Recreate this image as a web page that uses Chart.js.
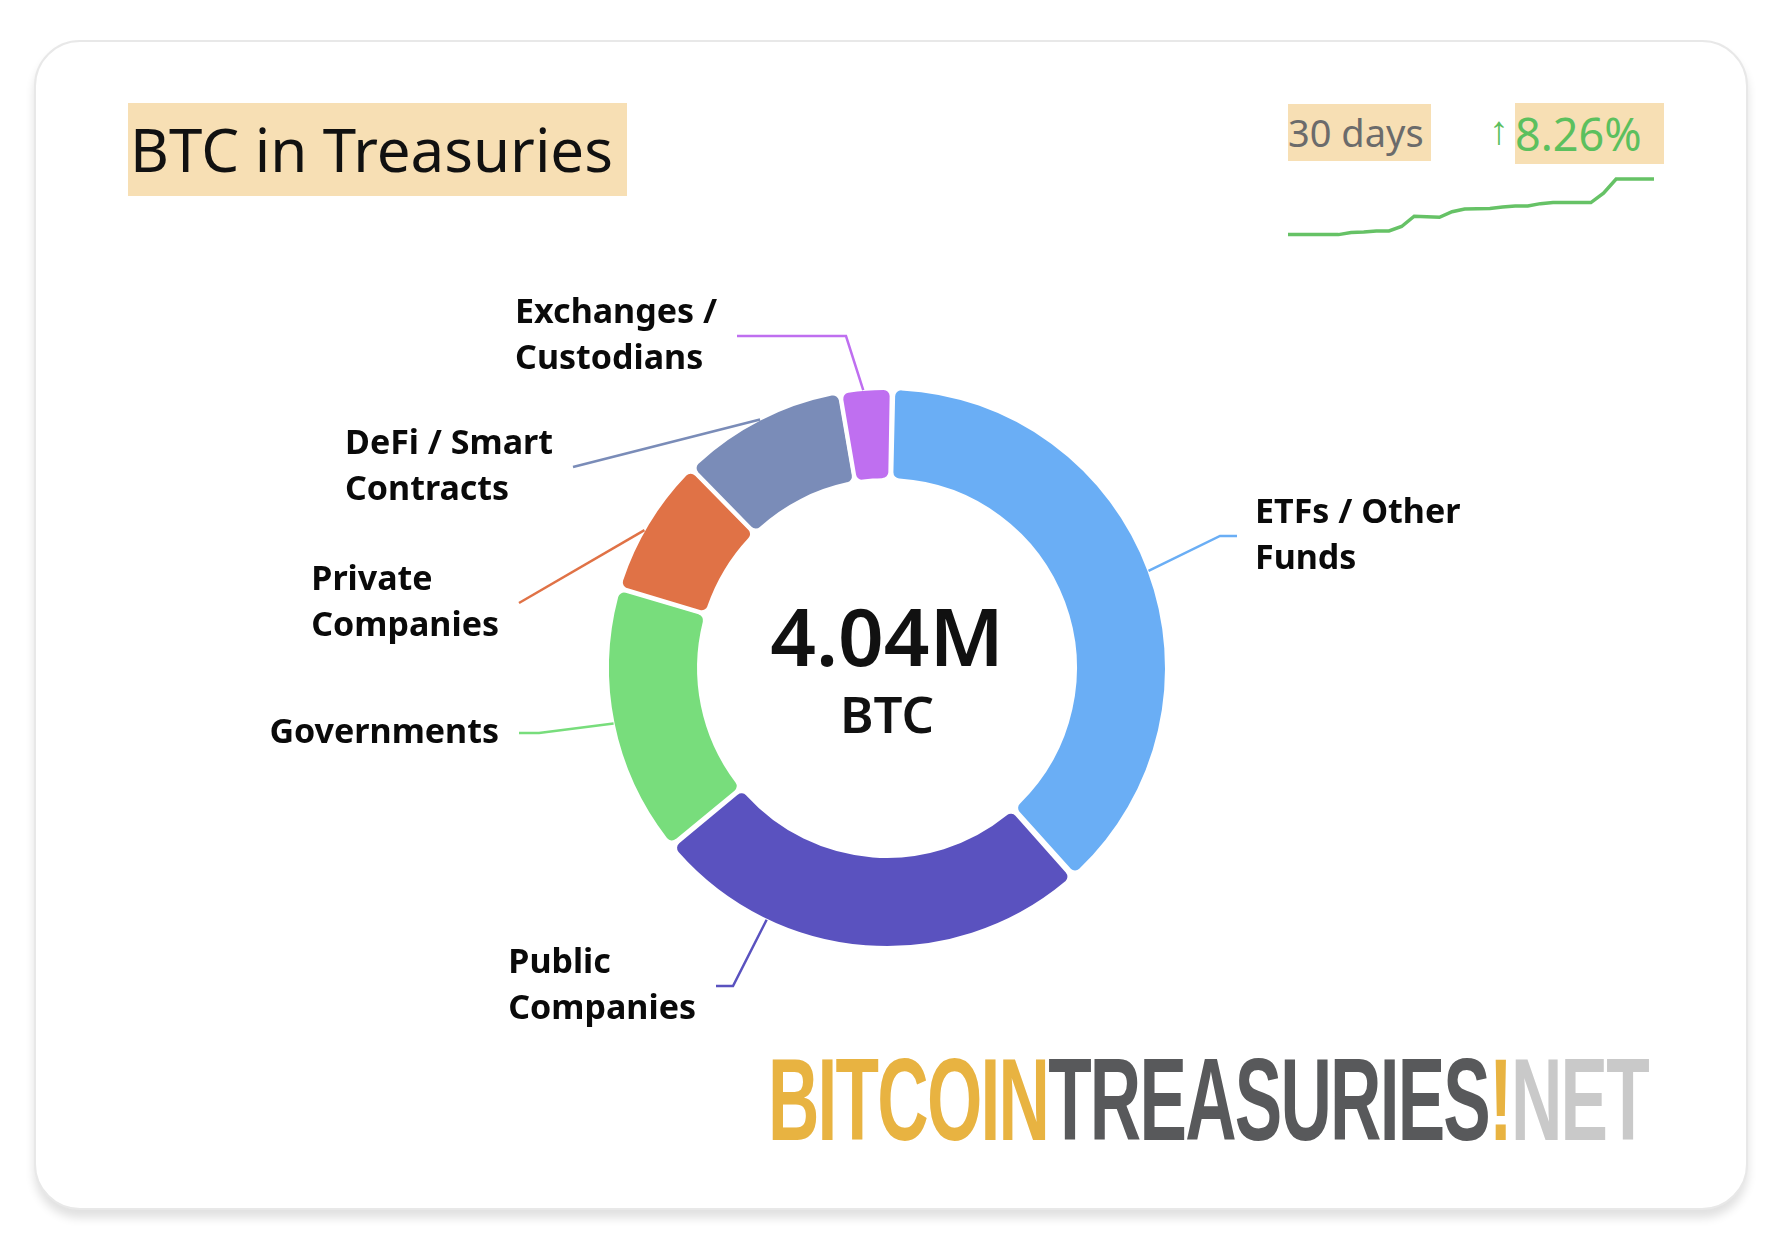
<!DOCTYPE html>
<html><head><meta charset="utf-8">
<script src="https://cdn.jsdelivr.net/npm/chart.js@4"></script>
<style>
html,body{margin:0;padding:0;background:#fff;width:1786px;height:1234px;overflow:hidden;font-family:"Noto Sans",sans-serif}
#card{position:absolute;left:34px;top:40px;width:1710px;height:1166px;border-radius:46px;background:#fff;border:2px solid #e8e8e8;box-shadow:0 8px 10px rgba(0,0,0,0.12)}
.box{position:absolute;background:#f7dfb4;white-space:nowrap}
#title{left:128px;top:103px;width:499px;height:93px;font-size:60px;line-height:93px;color:#111;text-indent:2px}
#days{left:1288px;top:104px;width:143px;height:57px;font-size:38px;line-height:57px;color:#6b6b6b}
#pct{left:1515px;top:103px;width:149px;height:61px;font-size:45px;line-height:61px;color:#5cc05e}
#arrow{position:absolute;left:1489px;top:100px;font-size:40px;line-height:57px;color:#5cc05e}
#main{position:absolute;left:0;top:0}
#sparkWrap{position:absolute;left:1282px;top:156px;width:378px;height:92px}
#logo{position:absolute;left:768px;top:1040px;font-family:"Liberation Sans Narrow","Liberation Sans",sans-serif;font-weight:bold;font-size:120px;line-height:120px;white-space:nowrap;transform-origin:0 0;letter-spacing:-3px}
</style></head><body>
<div id="card"></div>
<div id="title" class="box">BTC in Treasuries</div>
<div id="days" class="box">30 days</div>
<div id="arrow">↑</div>
<div id="pct" class="box">8.26%</div>
<canvas id="main" width="1786" height="1234"></canvas>
<div id="sparkWrap"><canvas id="spark"></canvas></div>
<div id="logo"><span style="color:#e8b341">BITCOIN</span><span style="color:#58595b">TREASURIES</span><span style="color:#e8b341">!</span><span style="color:#c9c9c9">NET</span></div>
<script>
const categories = ["ETFs / Other Funds","Public Companies","Governments","Private Companies","DeFi / Smart Contracts","Exchanges / Custodians"];
const labelLines = [["ETFs / Other","Funds"],["Public","Companies"],["Governments"],["Private","Companies"],["DeFi / Smart","Contracts"],["Exchanges /","Custodians"]];
const values = [1540, 1035, 630, 325, 390, 120];
const colors = ["#6aaef5","#5a52bf","#78dd7c","#e07246","#7a8cb8","#bf6ff0"];
const totalLabel = "4.04M";
const unitLabel = "BTC";
// leader line layout: where on the arc it starts (fraction), elbow and end points relative to donut centre
const leaderAt    = [0.5,0.73,0.5,0.45,0.5,0.45];
const leaderElbow = [[333,-132],[-154,318],[-348,65],[-368,-65],[-314,-201],[-41,-332]];
const leaderEnd   = [[350,-132],[-171,318],[-368,65],[-368,-65],[-314,-201],[-150,-332]];
const sparkDays = Array.from({length:30},(_,i)=>i+1);
const sparkValues = [3730,3730,3730,3730,3730,3742,3745,3750,3750,3775,3832,3829,3826,3857,3872,3874,3875,3883,3889,3889,3902,3908,3908,3908,3908,3960,4039,4039,4039,4039];

Chart.defaults.font.family = '"Noto Sans", sans-serif';
const labelPlugin = {
  id:'lbl',
  afterDraw(chart){
    const ctx = chart.ctx;
    const meta = chart.getDatasetMeta(0);
    const a0 = meta.data[0];
    const cx = a0.x, cy = a0.y;
    ctx.save();
    ctx.textAlign='center'; ctx.textBaseline='middle'; ctx.fillStyle='#111';
    ctx.font='600 80px "Noto Sans"';
    ctx.fillText(totalLabel, cx, cy-25);
    ctx.font='600 51px "Noto Sans"';
    ctx.fillText(unitLabel, cx, cy+50);
    meta.data.forEach((arc,i)=>{
      const t=leaderAt[i];
      const mid=arc.startAngle+(arc.endAngle-arc.startAngle)*t;
      const sx=cx+Math.cos(mid)*arc.outerRadius, sy=cy+Math.sin(mid)*arc.outerRadius;
      const e=leaderElbow[i], f=leaderEnd[i];
      ctx.strokeStyle=colors[i]; ctx.lineWidth=2.5;
      ctx.beginPath(); ctx.moveTo(sx,sy); ctx.lineTo(cx+e[0],cy+e[1]); ctx.lineTo(cx+f[0],cy+f[1]); ctx.stroke();
      ctx.font='bold 34px "Noto Sans"'; ctx.fillStyle='#0a0a0a'; ctx.textAlign='left';
      const lines=labelLines[i];
      const w=Math.max(...lines.map(l=>ctx.measureText(l).width));
      const right=f[0]>0;
      const tx= right? cx+f[0]+18 : cx+f[0]-20-w;
      const lh=46, ty=cy+f[1]-(lines.length-1)*lh/2;
      lines.forEach((l,k)=>ctx.fillText(l,tx,ty+k*lh));
    });
    ctx.restore();
  }
};
new Chart(document.getElementById('main'),{
  type:'doughnut',
  data:{labels:categories,datasets:[{data:values,backgroundColor:colors,borderColor:'#fff',borderWidth:4,borderRadius:8,spacing:2}]},
  options:{responsive:false,animation:false,cutout:'67%',rotation:1,
    layout:{padding:{left:605,right:617,top:385,bottom:283}},
    plugins:{legend:{display:false},tooltip:{enabled:false}}},
  plugins:[labelPlugin]
});
new Chart(document.getElementById('spark'),{
  type:'line',
  data:{labels:sparkDays,datasets:[{data:sparkValues,borderColor:'#66c266',borderWidth:3.5,pointRadius:0,tension:0,fill:false}]},
  options:{responsive:true,maintainAspectRatio:false,animation:false,
    layout:{padding:{left:6,right:6,top:12,bottom:8}},
    scales:{x:{display:false},y:{display:false}},
    plugins:{legend:{display:false},tooltip:{enabled:false}}}
});
const logo=document.getElementById('logo');
const w=logo.getBoundingClientRect().width;
logo.style.transform='scale('+(880/w)+',0.98)';
</script>
</body></html>
